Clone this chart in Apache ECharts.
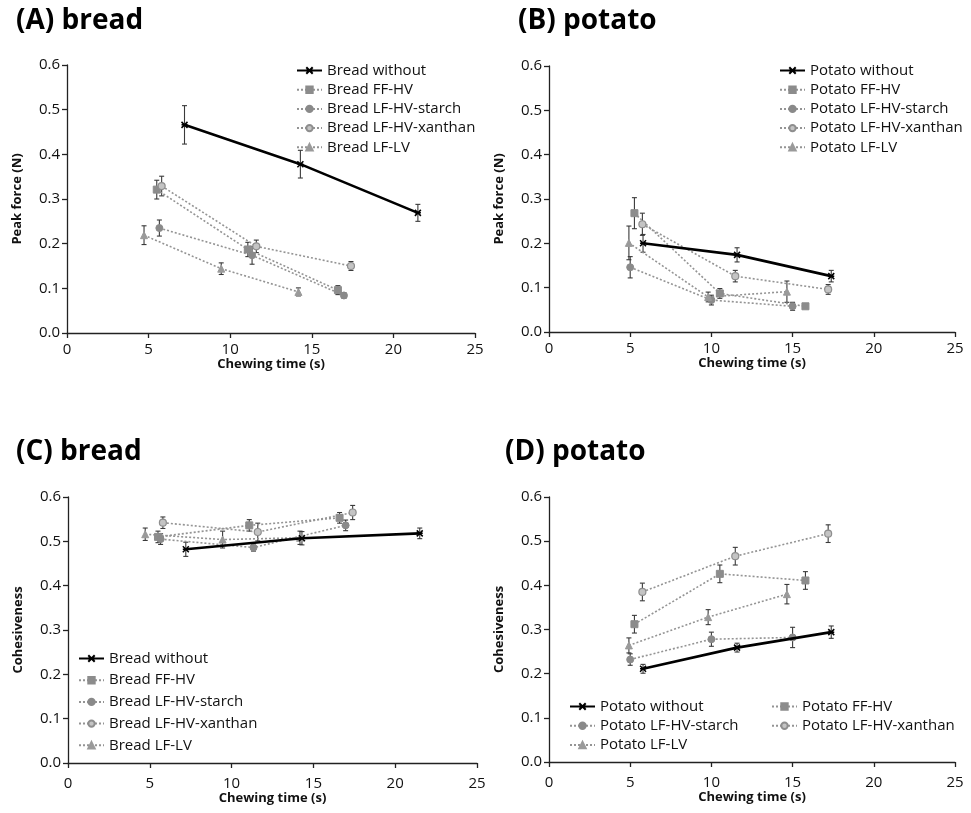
<!DOCTYPE html>
<html>
<head>
<meta charset="utf-8">
<script src="https://cdn.jsdelivr.net/npm/echarts@6/dist/echarts.min.js"></script>
<style>
  html, body { margin: 0; padding: 0; background: #fff; }
  #chart { width: 971px; height: 813px; }
</style>
</head>
<body>
<div id="chart"></div>
<script>
// Sample names and axis tick labels
const breadNames = ['Bread without', 'Bread FF-HV', 'Bread LF-HV-starch', 'Bread LF-HV-xanthan', 'Bread LF-LV'];
const potatoNames = ['Potato without', 'Potato FF-HV', 'Potato LF-HV-starch', 'Potato LF-HV-xanthan', 'Potato LF-LV'];
const xTicks = [0, 5, 10, 15, 20, 25];
const yTicks = [0.0, 0.1, 0.2, 0.3, 0.4, 0.5, 0.6];

// Bread chewing times (s)
const breadWithoutTime = [7.2, 14.3, 21.5];
const breadFFHVTime = [5.5, 11.08, 16.6];
const breadStarchTime = [5.66, 11.34, 16.97];
const breadXanthanTime = [5.8, 11.6, 17.4];
const breadLFLVTime = [4.72, 9.45, 14.18];

// Bread peak force (N) and standard errors
const breadWithoutForce = [0.466, 0.378, 0.269];
const breadWithoutForceErr = [0.043, 0.031, 0.019];
const breadFFHVForce = [0.321, 0.187, 0.096];
const breadFFHVForceErr = [0.021, 0.016, 0.010];
const breadStarchForce = [0.235, 0.174, 0.084];
const breadStarchForceErr = [0.018, 0.020, 0.006];
const breadXanthanForce = [0.329, 0.194, 0.150];
const breadXanthanForceErr = [0.022, 0.014, 0.010];
const breadLFLVForce = [0.219, 0.144, 0.092];
const breadLFLVForceErr = [0.021, 0.013, 0.009];

// Bread cohesiveness and standard errors
const breadWithoutCoh = [0.482, 0.507, 0.518];
const breadWithoutCohErr = [0.016, 0.015, 0.012];
const breadFFHVCoh = [0.510, 0.536, 0.553];
const breadFFHVCohErr = [0.013, 0.013, 0.012];
const breadStarchCoh = [0.505, 0.486, 0.536];
const breadStarchCohErr = [0.012, 0.008, 0.012];
const breadXanthanCoh = [0.542, 0.521, 0.565];
const breadXanthanCohErr = [0.013, 0.020, 0.016];
const breadLFLVCoh = [0.516, 0.504, 0.508];
const breadLFLVCohErr = [0.014, 0.019, 0.015];

// Potato chewing times (s)
const potatoWithoutTime = [5.79, 11.58, 17.38];
const potatoFFHVTime = [5.26, 10.52, 15.79];
const potatoStarchTime = [5.0, 10.0, 15.0];
const potatoXanthanTime = [5.75, 11.47, 17.19];
const potatoLFLVTime = [4.92, 9.8, 14.65];

// Potato peak force (N) and standard errors
const potatoWithoutForce = [0.200, 0.174, 0.126];
const potatoWithoutForceErr = [0.020, 0.016, 0.013];
const potatoFFHVForce = [0.268, 0.087, 0.058];
const potatoFFHVForceErr = [0.035, 0.011, 0.004];
const potatoStarchForce = [0.146, 0.072, 0.058];
const potatoStarchForceErr = [0.024, 0.011, 0.009];
const potatoXanthanForce = [0.243, 0.126, 0.096];
const potatoXanthanForceErr = [0.025, 0.013, 0.011];
const potatoLFLVForce = [0.201, 0.079, 0.091];
const potatoLFLVForceErr = [0.038, 0.011, 0.024];

// Potato cohesiveness and standard errors
const potatoWithoutCoh = [0.211, 0.259, 0.294];
const potatoWithoutCohErr = [0.010, 0.010, 0.014];
const potatoFFHVCoh = [0.312, 0.426, 0.411];
const potatoFFHVCohErr = [0.020, 0.020, 0.020];
const potatoStarchCoh = [0.232, 0.278, 0.282];
const potatoStarchCohErr = [0.013, 0.016, 0.023];
const potatoXanthanCoh = [0.385, 0.466, 0.517];
const potatoXanthanCohErr = [0.020, 0.020, 0.020];
const potatoLFLVCoh = [0.264, 0.328, 0.380];
const potatoLFLVCohErr = [0.017, 0.017, 0.022];

const FONT = '"Open Sans", Lato, sans-serif';
const xSymbol = 'path://M0,0 L10,10 M10,0 L0,10 M0,5 L10,5';

// Visual style of each sample (same order as the name lists)
const styles = [
  { line: { color: '#000', width: 2.6, type: 'solid' }, symbol: xSymbol, size: 6, item: { color: '#000', borderColor: '#000', borderWidth: 1.5 } },
  { line: { color: '#949494', width: 1.6, type: [2, 2] }, symbol: 'rect', size: 7, item: { color: '#8c8c8c', borderColor: '#8c8c8c', borderWidth: 1 } },
  { line: { color: '#949494', width: 1.6, type: [2, 2] }, symbol: 'circle', size: 7, item: { color: '#8a8a8a', borderColor: '#8a8a8a', borderWidth: 1 } },
  { line: { color: '#949494', width: 1.6, type: [2, 2] }, symbol: 'circle', size: 7, item: { color: '#c4c4c4', borderColor: '#8e8e8e', borderWidth: 1.2 } },
  { line: { color: '#949494', width: 1.6, type: [2, 2] }, symbol: 'triangle', size: 7, item: { color: '#9a9a9a', borderColor: '#9a9a9a', borderWidth: 1 } }
];

const panels = [
  { names: breadNames, yName: 'Peak force (N)',
    times: [breadWithoutTime, breadFFHVTime, breadStarchTime, breadXanthanTime, breadLFLVTime],
    vals: [breadWithoutForce, breadFFHVForce, breadStarchForce, breadXanthanForce, breadLFLVForce],
    errs: [breadWithoutForceErr, breadFFHVForceErr, breadStarchForceErr, breadXanthanForceErr, breadLFLVForceErr] },
  { names: potatoNames, yName: 'Peak force (N)',
    times: [potatoWithoutTime, potatoFFHVTime, potatoStarchTime, potatoXanthanTime, potatoLFLVTime],
    vals: [potatoWithoutForce, potatoFFHVForce, potatoStarchForce, potatoXanthanForce, potatoLFLVForce],
    errs: [potatoWithoutForceErr, potatoFFHVForceErr, potatoStarchForceErr, potatoXanthanForceErr, potatoLFLVForceErr] },
  { names: breadNames, yName: 'Cohesiveness',
    times: [breadWithoutTime, breadFFHVTime, breadStarchTime, breadXanthanTime, breadLFLVTime],
    vals: [breadWithoutCoh, breadFFHVCoh, breadStarchCoh, breadXanthanCoh, breadLFLVCoh],
    errs: [breadWithoutCohErr, breadFFHVCohErr, breadStarchCohErr, breadXanthanCohErr, breadLFLVCohErr] },
  { names: potatoNames, yName: 'Cohesiveness',
    times: [potatoWithoutTime, potatoFFHVTime, potatoStarchTime, potatoXanthanTime, potatoLFLVTime],
    vals: [potatoWithoutCoh, potatoFFHVCoh, potatoStarchCoh, potatoXanthanCoh, potatoLFLVCoh],
    errs: [potatoWithoutCohErr, potatoFFHVCohErr, potatoStarchCohErr, potatoXanthanCohErr, potatoLFLVCohErr] }
];

const grids = [
  { left: 67, width: 408, top: 65, height: 268 },
  { left: 549, width: 406, top: 66, height: 266 },
  { left: 68, width: 409, top: 497, height: 266 },
  { left: 549, width: 406, top: 497, height: 265 }
];
const labelMargins = [9, 9, 13, 13];
const nameGaps = [23, 23, 28, 28];

const axisLine = { show: true, lineStyle: { color: '#222', width: 1.3 } };
const axisTick = { show: true, inside: false, length: 5, lineStyle: { color: '#222', width: 1.3 } };

const xAxes = grids.map((g, i) => ({
  type: 'value', gridIndex: i, min: xTicks[0], max: xTicks[xTicks.length - 1], interval: 5,
  axisLine, axisTick, splitLine: { show: false },
  axisLabel: { color: '#111', fontSize: 15, fontFamily: FONT, margin: labelMargins[i] },
  name: 'Chewing time (s)', nameLocation: 'middle', nameGap: nameGaps[i],
  nameTextStyle: { color: '#111', fontSize: 13, fontWeight: 'bold', fontFamily: FONT }
}));

const yAxes = grids.map((g, i) => ({
  type: 'value', gridIndex: i, min: yTicks[0], max: yTicks[yTicks.length - 1], interval: 0.1,
  axisLine, axisTick, splitLine: { show: false },
  axisLabel: { color: '#111', fontSize: 15, fontFamily: FONT, margin: 7, formatter: v => v.toFixed(1) },
  name: panels[i].yName, nameLocation: 'middle', nameGap: 43,
  nameTextStyle: { color: '#111', fontSize: 13, fontWeight: 'bold', fontFamily: FONT }
}));

function errorBarSeries(panelIdx, k) {
  const p = panels[panelIdx];
  const data = p.times[k].map((t, j) => [t, p.vals[k][j], p.errs[k][j]]);
  return {
    type: 'custom', xAxisIndex: panelIdx, yAxisIndex: panelIdx, z: 2, silent: true,
    data,
    encode: { x: 0, y: 1 },
    renderItem: (params, api) => {
      const x = api.value(0), y = api.value(1), e = api.value(2);
      const top = api.coord([x, y + e]);
      const bot = api.coord([x, y - e]);
      const c = 2.5;
      const st = { stroke: '#3a3a3a', lineWidth: 1.1 };
      return {
        type: 'group',
        children: [
          { type: 'line', shape: { x1: top[0], y1: top[1], x2: bot[0], y2: bot[1] }, style: st },
          { type: 'line', shape: { x1: top[0] - c, y1: top[1], x2: top[0] + c, y2: top[1] }, style: st },
          { type: 'line', shape: { x1: bot[0] - c, y1: bot[1], x2: bot[0] + c, y2: bot[1] }, style: st }
        ]
      };
    }
  };
}

const series = [];
panels.forEach((p, i) => {
  p.names.forEach((name, k) => {
    const s = styles[k];
    series.push({
      name, type: 'line', xAxisIndex: i, yAxisIndex: i,
      data: p.times[k].map((t, j) => [t, p.vals[k][j]]),
      symbol: s.symbol, symbolSize: s.size, showAllSymbol: true,
      lineStyle: s.line, itemStyle: s.item, z: k === 0 ? 4 : 3,
      emphasis: { disabled: true }, animation: false
    });
    series.push(errorBarSeries(i, k));
  });
});

const legendText = { color: '#111', fontSize: 15, fontFamily: FONT, lineHeight: 15 };
const legendBase = {
  orient: 'vertical', itemWidth: 25, itemHeight: 8, padding: 0, textStyle: legendText,
  selectedMode: false
};

const titleStyle = { color: '#000', fontSize: 28, fontWeight: 'bold', fontFamily: FONT, lineHeight: 30 };

const option = {
  backgroundColor: '#fff',
  animation: false,
  title: [
    { text: '(A) bread', left: 16, top: 6, textStyle: titleStyle, padding: 0 },
    { text: '(B) potato', left: 518, top: 6, textStyle: titleStyle, padding: 0 },
    { text: '(C) bread', left: 16, top: 437, textStyle: titleStyle, padding: 0 },
    { text: '(D) potato', left: 505, top: 437, textStyle: titleStyle, padding: 0 }
  ],
  grid: grids,
  xAxis: xAxes,
  yAxis: yAxes,
  legend: [
    Object.assign({}, legendBase, { left: 296, top: 63, itemGap: 4.2, data: breadNames }),
    Object.assign({}, legendBase, { left: 779, top: 63, itemGap: 4.2, data: potatoNames }),
    Object.assign({}, legendBase, { left: 78, top: 651, itemGap: 6.7, data: breadNames }),
    Object.assign({}, legendBase, { left: 569, top: 699, itemGap: 4.3, data: [potatoNames[0], potatoNames[2], potatoNames[4]] }),
    Object.assign({}, legendBase, { left: 771, top: 699, itemGap: 4.3, data: [potatoNames[1], potatoNames[3]] })
  ],
  series
};

const chart = echarts.init(document.getElementById('chart'), null, { renderer: 'canvas' });
chart.setOption(option);
</script>
</body>
</html>
